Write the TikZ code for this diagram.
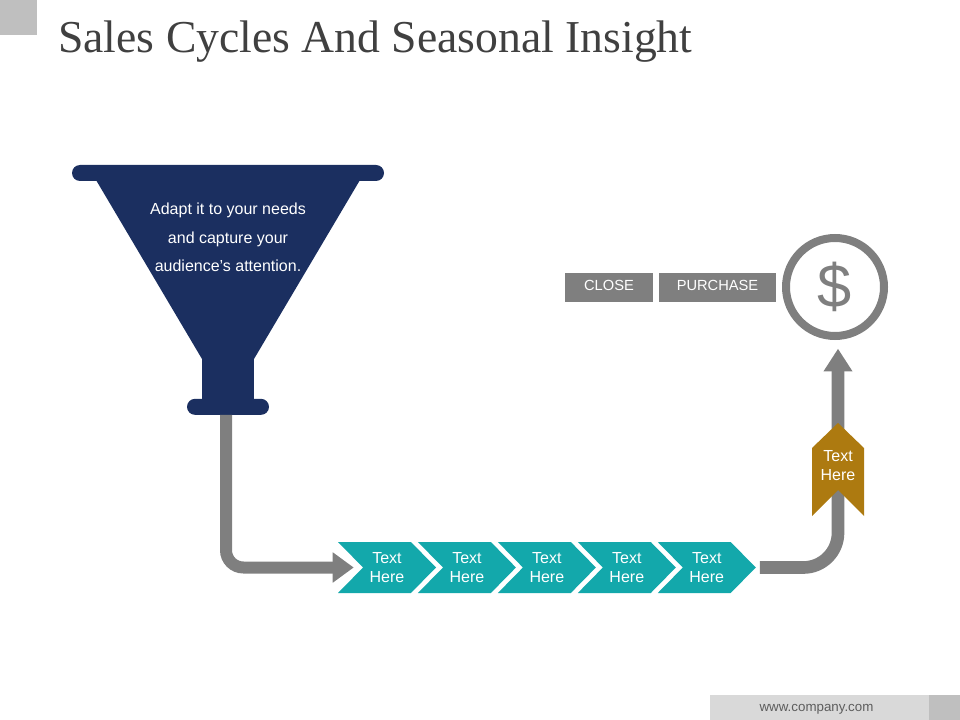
\documentclass[tikz,border=0pt]{standalone}
\usepackage{xcolor}
\usepackage{fontspec}
\usetikzlibrary{shapes, shapes.symbols, arrows.meta, positioning}
\setmainfont{Liberation Serif}
\setsansfont{Liberation Sans}
\definecolor{funnelBlue}{HTML}{1B2F60}
\definecolor{chevTeal}{HTML}{13A8AB}
\definecolor{tagGold}{HTML}{AD7A10}
\definecolor{flowGray}{HTML}{7F7F7F}
\definecolor{cornerGray}{HTML}{BFBFBF}
\definecolor{footGray}{HTML}{D9D9D9}
\definecolor{titleGray}{HTML}{404040}
\tikzset{
  funnelpart/.style={rectangle, fill=funnelBlue, inner sep=0pt, outer sep=0pt},
  chevbox/.style={signal, signal to=east, signal from=west, signal pointer angle=91, fill=chevTeal, text=white, inner sep=0pt, outer sep=0pt, minimum width=73.5pt, minimum height=38.25pt, align=center, font=\sffamily\fontsize{12}{14.25}\selectfont},
  btnbox/.style={rectangle, fill=flowGray, text=white, inner sep=0pt, outer sep=0pt, minimum height=21.75pt, text height=8pt, text depth=3pt, font=\sffamily\fontsize{11}{13}\selectfont},
  flowline/.style={draw=flowGray, line width=9.5pt}
}
\begin{document}
\begin{tikzpicture}[x=0.75pt, y=-0.75pt]
    \useasboundingbox (0,0) rectangle (960,720);

    \node (corner) [rectangle, fill=cornerGray, anchor=north west, inner sep=0pt, minimum width=27.75pt, minimum height=26.25pt] at (0,0) {};
    \node (title) [anchor=west, inner sep=0pt, text=titleGray, font=\fontsize{34.25}{40}\selectfont] at (58,42) {Sales Cycles And Seasonal Insight};

    \fill [funnelBlue] (96,180) -- (360,180) -- (254,359) -- (202,359) -- cycle;
    \node (funnelTop) [funnelpart, rounded corners=6pt, minimum width=234pt, minimum height=12pt] at (228,173) {};
    \node (funnelNeck) [funnelpart, minimum width=39pt, minimum height=31pt] at (228,378.5) {};
    \node (funnelBase) [funnelpart, rounded corners=6pt, minimum width=61.5pt, minimum height=12pt, below=-0.25pt of funnelNeck] {};
    \node (funnelText) [text=white, align=center, font=\sffamily\fontsize{12}{21.4}\selectfont] at (228,237.5) {Adapt it to your needs\\and capture your\\audience's attention.};

    \node (textA) [chevbox] at (387,567.5) {Text\\Here};
    \node (textB) [chevbox, right=5.25pt of textA] {Text\\Here};
    \node (textC) [chevbox, right=5.25pt of textB] {Text\\Here};
    \node (textD) [chevbox, right=5.25pt of textC] {Text\\Here};
    \node (textE) [chevbox, right=5.25pt of textD] {Text\\Here};

    \node (dollar) [circle, draw=flowGray, line width=6pt, text=flowGray, inner sep=0pt, minimum size=73.5pt, font=\sffamily\fontsize{46}{46}\selectfont] at (835,287) {\$};
    \node (purchase) [btnbox, minimum width=87.75pt] at (717.5,287.5) {PURCHASE};
    \node (close) [btnbox, minimum width=66pt, left=4.5pt of purchase] {CLOSE};

    \draw [flowline, line width=9pt, rounded corners=13pt, arrows = -{Triangle[width=21.75pt, length=15.75pt]}, shorten >=7pt] ([xshift=-1.5pt]funnelBase.south) |- (textA.west);
    \draw [flowline, rounded corners=26pt, arrows = -{Triangle[width=20.5pt, length=17pt]}, shorten <=3pt, shorten >=6.5pt] (textE.east) -| ([xshift=2.25pt]dollar.south);

    \fill [tagGold] (838,423) -- (864,448) -- (864,516) -- (838,490) -- (812,516) -- (812,448) -- cycle;
    \node (tagText) [text=white, align=center, inner sep=0pt, font=\sffamily\fontsize{12}{14.25}\selectfont] at (838,465.5) {Text\\Here};

    \node (footBar) [rectangle, fill=footGray, anchor=north west, inner sep=0pt, minimum width=164.25pt, minimum height=18.75pt] at (710,695) {};
    \node (footEnd) [rectangle, fill=cornerGray, anchor=north west, inner sep=0pt, minimum width=23.25pt, minimum height=18.75pt] at (929,695) {};
    \node (footText) [text=titleGray!85, font=\sffamily\fontsize{10}{12}\selectfont] at (816.5,709) {www.company.com};
\end{tikzpicture}
\end{document}
